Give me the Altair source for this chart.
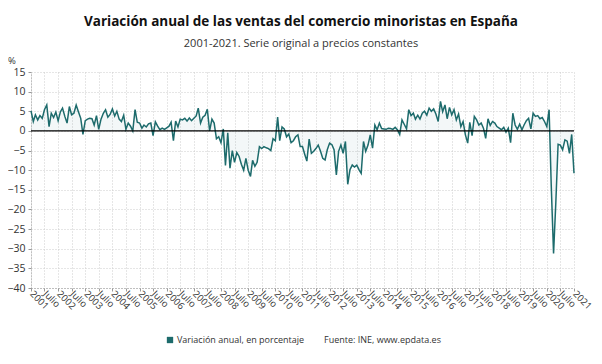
import altair as alt
import pandas as pd
from datetime import datetime, timezone

# Monthly year-on-year change (%), Jan 2001 - Jan 2021
v2001 = [5.1, 2.4, 4.1, 2.8, 3.9, 3.2, 5.4, 6.6, 1.1, 4.5, 3.4, 4.8]
v2002 = [2.6, 4.9, 5.8, 3.7, 2.0, 6.2, 4.1, 4.5, 6.6, 4.9, 3.2, -0.9]
v2003 = [2.6, 3.0, 3.2, 3.1, 1.5, 3.9, 0.4, 3.0, 4.5, 5.4, 3.5, 4.2]
v2004 = [5.6, 3.8, 5.0, 3.0, 2.4, 4.0, 0.4, 2.0, 1.2, 0.0, 5.4, 2.2]
v2005 = [2.0, 0.7, 1.5, 1.0, 1.8, 2.0, -1.2, 2.3, 1.2, 0.3, 0.7, 0.4]
v2006 = [0.8, 1.2, 2.2, -2.5, 2.5, 1.0, 3.0, 2.8, 3.2, 2.5, 3.3, 2.6]
v2007 = [3.2, 3.8, 5.8, 2.0, 3.5, 4.0, 5.5, 0.0, 3.0, 2.0, -2.0, -1.5]
v2008 = [-3.0, 0.5, -8.8, -0.5, -9.5, -5.0, -8.0, -5.5, -6.5, -8.5, -10.0, -7.0]
v2009 = [-10.0, -11.6, -7.5, -9.0, -8.0, -4.0, -4.5, -4.0, -4.3, -4.5, -5.0, -2.0]
v2010 = [-2.5, 3.5, -2.5, 1.0, 0.5, -1.5, -0.8, -3.0, -2.5, -1.5, -1.0, -4.0]
v2011 = [-4.0, -6.0, -7.7, -2.1, -5.7, -5.2, -4.5, -3.6, -5.2, -7.0, -7.4, -4.8]
v2012 = [-3.1, -3.5, -4.8, -11.2, -5.2, -3.6, -5.7, -2.7, -13.6, -9.9, -8.7, -9.2]
v2013 = [-8.7, -9.9, -10.8, -2.7, -5.2, -3.6, -1.0, -4.4, 1.5, 0.3, 2.0, 0.6]
v2014 = [0.5, 0.4, 0.7, 0.6, 0.4, 0.9, 0.3, -0.9, 2.8, 1.7, 0.5, 5.4]
v2015 = [3.9, 4.5, 3.0, 4.0, 3.0, 4.5, 5.0, 4.0, 5.8, 5.0, 5.6, 4.3]
v2016 = [2.4, 7.5, 4.9, 6.6, 3.1, 6.0, 4.1, 5.4, 2.8, 4.3, 1.1, 2.4]
v2017 = [-1.0, -3.1, 2.2, -1.2, 3.7, 2.8, 1.5, 2.0, 0.7, -1.9, 3.1, 1.4]
v2018 = [2.4, 2.0, 1.1, 0.7, 0.3, 0.9, -0.3, 0.7, -3.0, 4.5, 1.5, 0.4]
v2019 = [1.7, 0.3, 1.5, 2.6, 3.2, 0.5, 4.5, 3.7, 3.9, 3.1, 3.4, 2.4]
v2020 = [1.1, 5.4, -14.0, -31.2, -18.5, -3.4, -3.6, -4.8, -2.3, -2.6, -5.7, -0.9]
v2021 = [-10.8]

years = list(range(2001, 2022))
series = [v2001, v2002, v2003, v2004, v2005, v2006, v2007, v2008, v2009, v2010,
          v2011, v2012, v2013, v2014, v2015, v2016, v2017, v2018, v2019, v2020, v2021]

TITLE = "Variación anual de las ventas del comercio minoristas en España"
SUBTITLE = "2001-2021. Serie original a precios constantes"
LEGEND = "Variación anual, en porcentaje"
SOURCE = "Fuente: INE, www.epdata.es"
Y_TICKS = list(range(-40, 16, 5))

rows = []
for y, vals in zip(years, series):
    for i, v in enumerate(vals):
        rows.append({"date": f"{y}-{i+1:02d}-01", "value": v})
df = pd.DataFrame(rows)

def ms(y, m):
    return int(datetime(y, m, 1, tzinfo=timezone.utc).timestamp() * 1000)

x_ticks = []
for y in range(2001, 2022):
    x_ticks.append(ms(y, 1))
    if y < 2021:
        x_ticks.append(ms(y, 7))

LINE = "#1d6b6c"
FONT = "Open Sans"
W = 543
H = 216
LEFT = 23
TOP = 64

x_axis = alt.Axis(values=x_ticks, title=None,
                  labelExpr="utcFormat(datum.value, '%m') == '01' ? utcFormat(datum.value, '%Y') : 'Julio'",
                  labelAngle=45, labelAlign="left", labelBaseline="middle",
                  labelFontSize=9.5, labelColor="#333", labelFont=FONT,
                  labelPadding=1, tickSize=3, tickColor="#999",
                  grid=True, gridColor="#cccccc", gridDash=[1, 2],
                  domainColor="#999", domainDash=[1, 2],
                  labelOverlap=False, labelFlush=False, labelBound=False)
y_axis = alt.Axis(values=Y_TICKS, title=None, labelFontSize=10.5, labelColor="#333",
                  labelFont=FONT, tickSize=3, tickColor="#999", labelPadding=3,
                  grid=True, gridColor="#cccccc", gridDash=[1, 2],
                  domainColor="#999", domainDash=[1, 2],
                  labelOverlap=False, labelFlush=False, labelBound=False)
x_scale = alt.Scale(type="utc", domain=[ms(2001, 1), ms(2021, 1)])
y_scale = alt.Scale(domain=[-40, 15], nice=False)

x_enc = alt.X("date:T", scale=x_scale, axis=x_axis)
y_enc = alt.Y("value:Q", scale=y_scale, axis=y_axis)

base = alt.Chart(df)
area = base.mark_area(color=LINE, opacity=0.05).encode(x=x_enc, y=y_enc, y2=alt.datum(0))
line = base.mark_line(color=LINE, strokeWidth=1.5).encode(x=x_enc, y=y_enc)
zero = alt.Chart(alt.Data(values=[{"v": 0}])).mark_rule(color="black", strokeWidth=1.2).encode(
    y=alt.Y("v:Q", scale=y_scale, axis=y_axis))

cx = 301 - 8 - LEFT
one = alt.Data(values=[{}])
title = alt.Chart(one).mark_text(text=TITLE, font=FONT, fontSize=13.5, fontWeight="bold",
                                 color="#111", align="center", baseline="middle").encode(
    x=alt.value(cx), y=alt.value(22 - 8 - TOP))
subtitle = alt.Chart(one).mark_text(text=SUBTITLE, font=FONT, fontSize=11, color="#333",
                                    align="center", baseline="middle").encode(
    x=alt.value(cx), y=alt.value(44 - 8 - TOP))
pct = alt.Chart(one).mark_text(text="%", font=FONT, fontSize=9.5, color="#333",
                               align="left", baseline="middle").encode(
    x=alt.value(8 - 8 - LEFT), y=alt.value(61 - 8 - TOP))
sq = alt.Chart(one).mark_square(color=LINE, size=40, opacity=1).encode(
    x=alt.value(170 - 8 - LEFT), y=alt.value(340 - 8 - TOP))
leg = alt.Chart(one).mark_text(text=LEGEND, font=FONT, fontSize=9, color="#333",
                               align="left", baseline="middle").encode(
    x=alt.value(177 - 8 - LEFT), y=alt.value(340 - 8 - TOP))
src = alt.Chart(one).mark_text(text=SOURCE, font=FONT, fontSize=9, color="#333",
                               align="left", baseline="middle").encode(
    x=alt.value(324 - 8 - LEFT), y=alt.value(340 - 8 - TOP))

chart = alt.layer(area, line, zero, title, subtitle, pct, sq, leg, src).properties(
    width=W, height=H,
    autosize=alt.AutoSizeParams(type="none"),
    padding={"left": LEFT, "top": TOP, "right": 586 - LEFT - W, "bottom": 66},
    background="white",
).configure_view(stroke=None)

chart.save("out.html", embed_options={"renderer": "svg", "actions": False})
